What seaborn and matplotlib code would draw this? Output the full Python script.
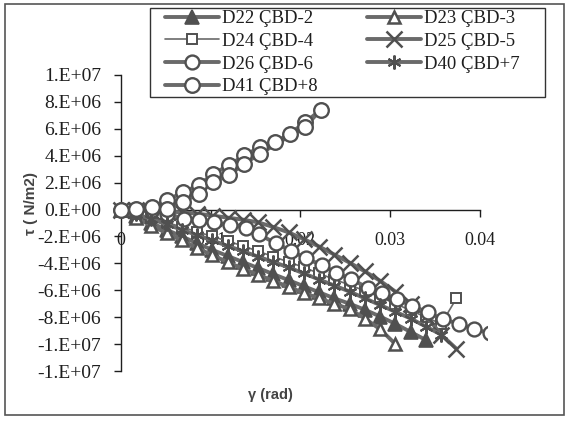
"""
Shear stress vs. shear strain for the D-series specimens (grayscale Excel-style chart).
"""

import matplotlib
matplotlib.use("Agg")
import matplotlib.pyplot as plt
import matplotlib.ticker as mticker
from matplotlib.patches import Rectangle
import seaborn as sns

# gamma (rad) and tau (x1e6 N/m2)
g22 = [0, 0.0017, 0.0034, 0.0051, 0.0068, 0.0085, 0.0102, 0.0119, 0.0136, 0.0153, 0.0170,
       0.0187, 0.0204, 0.0221, 0.0238, 0.0255, 0.0272, 0.0289, 0.0306, 0.0323, 0.0340]
t22 = [0, -0.5, -1.0, -1.5, -2.0, -2.5, -3.0, -3.45, -3.9, -4.35, -4.8,
       -5.25, -5.7, -6.15, -6.6, -7.0, -7.45, -7.95, -8.5, -9.1, -9.7]

g23 = [0, 0.0017, 0.0034, 0.0051, 0.0068, 0.0085, 0.0102, 0.0119, 0.0136, 0.0153, 0.0170,
       0.0187, 0.0204, 0.0221, 0.0238, 0.0255, 0.0272, 0.0289, 0.0306]
t23 = [0, -0.6, -1.2, -1.75, -2.3, -2.85, -3.4, -3.9, -4.4, -4.85, -5.3,
       -5.75, -6.2, -6.6, -7.0, -7.4, -8.1, -8.9, -10.0]

g24 = [0, 0.0017, 0.0034, 0.0051, 0.0068, 0.0085, 0.0102, 0.0119, 0.0136, 0.0153, 0.0170,
       0.0187, 0.0204, 0.0221, 0.0238, 0.0255, 0.0272, 0.0289, 0.0306, 0.0323, 0.0340,
       0.0357, 0.0374]
t24 = [0, -0.3, -0.6, -0.95, -1.3, -1.65, -2.0, -2.35, -2.7, -3.1, -3.5,
       -3.9, -4.3, -4.75, -5.2, -5.6, -6.05, -6.5, -7.0, -7.5, -8.0,
       -8.5, -6.6]

g25 = [0, 0.0017, 0.0034, 0.0051, 0.0068, 0.0085, 0.0102, 0.0119, 0.0136, 0.0153, 0.0170,
       0.0187, 0.0204, 0.0221, 0.0238, 0.0255, 0.0272, 0.0289, 0.0306, 0.0323, 0.0340,
       0.0357, 0.0374]
t25 = [0, -0.05, -0.1, -0.15, -0.2, -0.3, -0.45, -0.6, -0.75, -0.95, -1.3,
       -1.7, -2.2, -2.75, -3.35, -3.95, -4.6, -5.3, -6.1, -7.0, -7.9,
       -9.3, -10.35]

g26 = [0, 0.0017, 0.0035, 0.0052, 0.0070, 0.0087, 0.0104, 0.0122, 0.0139, 0.0154, 0.0173,
       0.0190, 0.0206, 0.0224, 0.0240, 0.0257, 0.0275, 0.0291, 0.0308, 0.0325, 0.0342,
       0.0359, 0.0377, 0.0394, 0.0411]
t26 = [0, 0, -0.05, -0.3, -0.69, -0.8, -0.95, -1.15, -1.36, -1.85, -2.52,
       -3.06, -3.63, -4.12, -4.69, -5.19, -5.80, -6.22, -6.67, -7.16, -7.65,
       -8.15, -8.49, -8.89, -9.19]

g40 = [0, 0.0017, 0.0034, 0.0051, 0.0068, 0.0085, 0.0102, 0.0119, 0.0136, 0.0153, 0.0170,
       0.0187, 0.0204, 0.0221, 0.0238, 0.0255, 0.0272, 0.0289, 0.0306, 0.0323, 0.0340,
       0.0357]
t40 = [0, -0.35, -0.7, -1.1, -1.5, -1.9, -2.3, -2.7, -3.1, -3.5, -3.9,
       -4.3, -4.75, -5.2, -5.65, -6.1, -6.6, -7.1, -7.6, -8.1, -8.7,
       -9.3]

# D41 goes up one branch and comes back down a slightly lower one
g41 = [0, 0.00174, 0.00344, 0.00518, 0.00696, 0.0087, 0.01033, 0.01203, 0.01377, 0.01551,
       0.01721, 0.01883, 0.02057, 0.02227,
       0.02057, 0.01551, 0.01377, 0.01203, 0.01033, 0.0087, 0.00696, 0.00518]
t41 = [0, 0.07, 0.2, 0.69, 1.31, 1.8, 2.67, 3.28, 4.02, 4.64,
       5.01, 5.63, 6.49, 7.41,
       6.17, 4.15, 3.41, 2.54, 2.05, 1.19, 0.57, 0.07]

series_names = ["D22 ÇBD-2", "D23 ÇBD-3", "D24 ÇBD-4", "D25 ÇBD-5",
                "D26 ÇBD-6", "D40 ÇBD+7", "D41 ÇBD+8"]
xticks = [0, 0.01, 0.02, 0.03, 0.04]
xtick_labels = ["0", "0.01", "0.02", "0.03", "0.04"]
yticks = [1.0e7, 8e6, 6e6, 4e6, 2e6, 0, -2e6, -4e6, -6e6, -8e6, -1.0e7, -1.2e7]
ytick_labels = ["1.E+07", "8.E+06", "6.E+06", "4.E+06", "2.E+06", "0.E+00",
                "-2.E+06", "-4.E+06", "-6.E+06", "-8.E+06", "-1.E+07", "-1.E+07"]

sns.set_style("white")
plt.rcParams["font.family"] = ["Liberation Serif", "DejaVu Serif"]

LINE = "#6a6a6a"
EDGE = "#505050"
INK = "#1e1e1e"

fig = plt.figure(figsize=(5.71, 4.23), dpi=100)
ax = fig.add_axes([110 / 571, 1 - 371 / 423, 377 / 571, 296 / 423])

styles = [
    dict(marker="^", markersize=10, mfc=EDGE, mec=EDGE, mew=1.2, lw=2.8),
    dict(marker="^", markersize=9, mfc="white", mec=EDGE, mew=1.8, lw=2.8),
    dict(marker="s", markersize=7, mfc="white", mec=EDGE, mew=1.4, lw=1.2),
    dict(marker="x", markersize=11, mfc=EDGE, mec=EDGE, mew=1.8, lw=2.8),
    dict(marker="o", markersize=10, mfc="white", mec=EDGE, mew=1.7, lw=2.8),
    dict(marker=(6, 2, 0), markersize=10, mfc=EDGE, mec=EDGE, mew=1.5, lw=2.8),
    dict(marker="o", markersize=10.5, mfc="white", mec=EDGE, mew=1.7, lw=2.8),
]
data = [(g22, t22), (g23, t23), (g24, t24), (g25, t25), (g26, t26), (g40, t40), (g41, t41)]

for (g, t), name, st in zip(data, series_names, styles):
    tau = [v * 1e6 for v in t]
    sns.lineplot(x=g, y=tau, ax=ax, color=LINE, sort=False, estimator=None,
                 legend=False, label=name, zorder=3, **st)

ax.set_xlim(-0.0012, 0.0408)
ax.set_ylim(-1.2e7, 1.0e7)

for side in ["top", "right"]:
    ax.spines[side].set_visible(False)
ax.spines["left"].set_position(("data", 0))
ax.spines["bottom"].set_position(("data", 0))
ax.spines["bottom"].set_bounds(0, 0.04)
for side in ["left", "bottom"]:
    ax.spines[side].set_color(INK)
    ax.spines[side].set_linewidth(1.0)

ax.set_xticks(xticks)
ax.xaxis.set_major_formatter(mticker.FixedFormatter(xtick_labels))
ax.set_yticks(yticks)
ax.yaxis.set_major_formatter(mticker.FixedFormatter(ytick_labels))
ax.tick_params(axis="both", direction="out", length=5, width=1, color=INK,
               labelcolor=INK, left=True, bottom=True)
ax.tick_params(axis="x", pad=11, labelsize=13)
ax.tick_params(axis="y", pad=9, labelsize=14)
ax.set_xlabel("")
ax.set_ylabel("")

fig.text(31 / 571, 1 - 203 / 423, "τ ( N/m2)", rotation=90, ha="center", va="center",
         family=["Liberation Sans", "DejaVu Sans"], fontsize=11, fontweight="bold",
         color="#444444")
fig.text(270 / 571, 1 - 395 / 423, "γ (rad)", ha="center", va="center",
         family=["Liberation Sans", "DejaVu Sans"], fontsize=10.5, fontweight="bold",
         color="#444444")

# legend box drawn separately so the side padding can be wider than the top padding
handles, labels = ax.get_legend_handles_labels()
order = [0, 2, 4, 6, 1, 3, 5]
leg = fig.legend([handles[i] for i in order], [labels[i] for i in order],
                 loc="upper left", bbox_to_anchor=(165 / 571, 1 - 10 / 423), ncol=2,
                 frameon=False, fontsize=13.5, handlelength=2.9, handletextpad=0.15,
                 columnspacing=2.6, labelspacing=0.3, borderpad=0, borderaxespad=0)
for txt in leg.get_texts():
    txt.set_color(INK)
fig.patches.append(Rectangle((150 / 571, 1 - 97 / 423), 395 / 571, 89 / 423,
                             transform=fig.transFigure, fill=False,
                             edgecolor="#333333", linewidth=1.0))

fig.patches.append(Rectangle((5 / 571, 8 / 423), 559 / 571, 411 / 423, transform=fig.transFigure,
                             fill=False, edgecolor="#555555", linewidth=1.2))

fig.savefig("out.png", dpi=100, facecolor="white")
